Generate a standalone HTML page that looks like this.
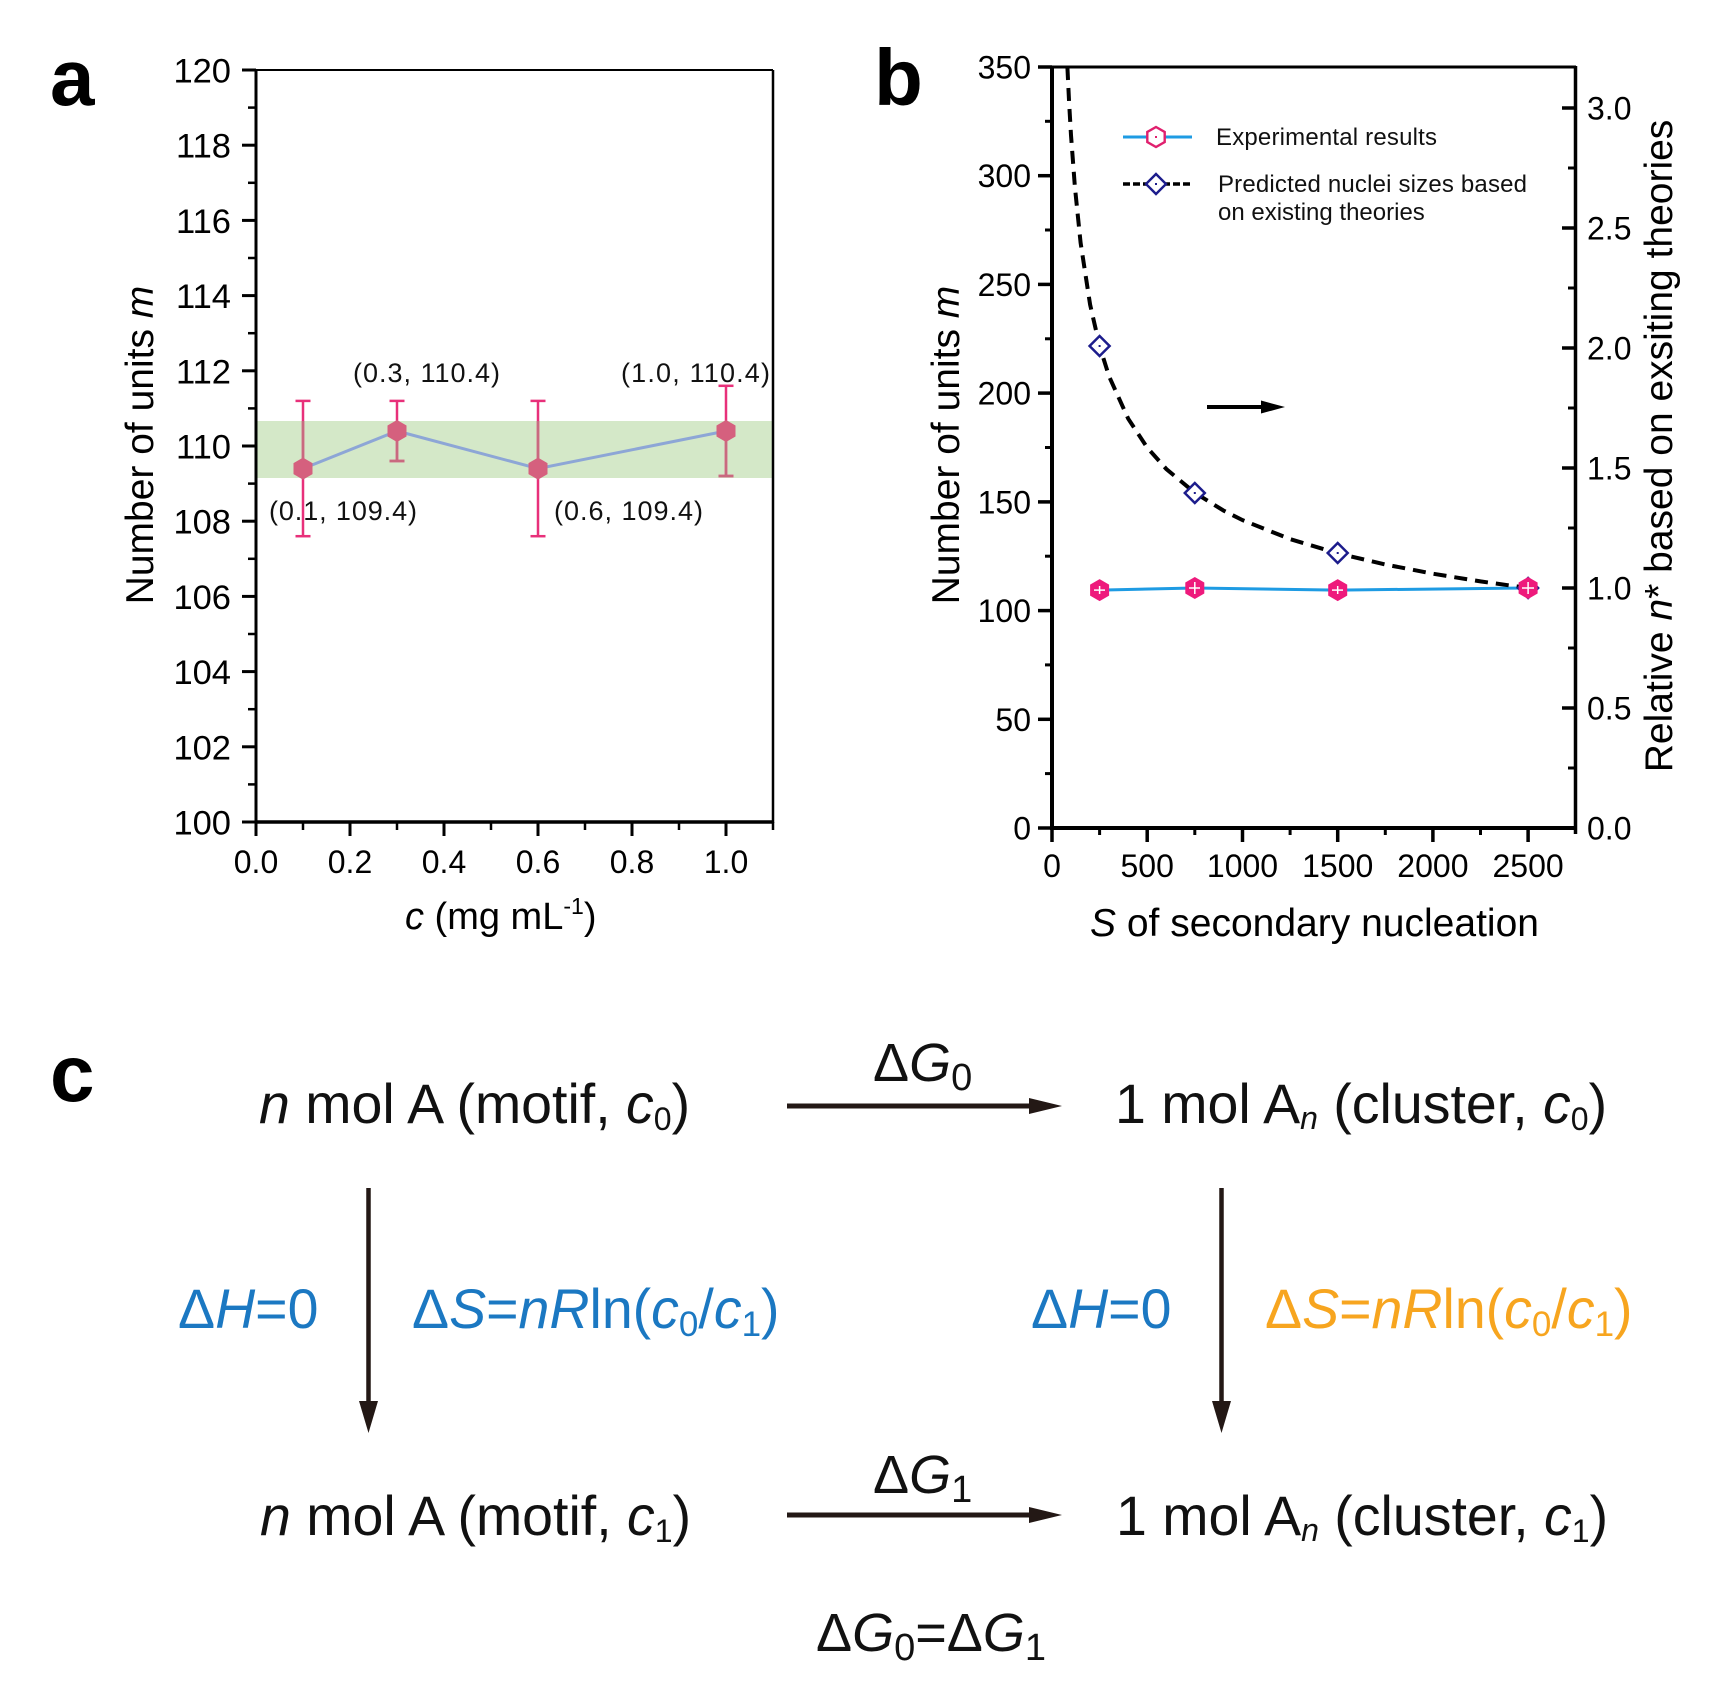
<!DOCTYPE html>
<html>
<head>
<meta charset="utf-8">
<style>
html,body{margin:0;padding:0;background:#fff;}
svg{display:block;}
text{font-family:"Liberation Sans",Arial,sans-serif;}
</style>
</head>
<body>
<svg width="1709" height="1686" viewBox="0 0 1709 1686" xmlns="http://www.w3.org/2000/svg">
<rect width="1709" height="1686" fill="#fff"/>
<defs>
<clipPath id="band"><rect x="256" y="421" width="517" height="57"/></clipPath>
</defs>

<!-- ================= Panel a ================= -->
<text x="50" y="105" font-size="80" font-weight="bold">a</text>
<rect x="256" y="421" width="517" height="57" fill="#d4e8c8"/>

<g stroke="#000" fill="none">
<line x1="256" y1="70" x2="773" y2="70" stroke-width="2"/>
<line x1="773" y1="70" x2="773" y2="823" stroke-width="2.5"/>
<line x1="256" y1="69" x2="256" y2="823.5" stroke-width="3"/>
<line x1="254.5" y1="822" x2="774" y2="822" stroke-width="3.5"/>
<g stroke-width="3">
<line x1="242" y1="822" x2="256" y2="822"/><line x1="242" y1="746.8" x2="256" y2="746.8"/>
<line x1="242" y1="671.6" x2="256" y2="671.6"/><line x1="242" y1="596.4" x2="256" y2="596.4"/>
<line x1="242" y1="521.2" x2="256" y2="521.2"/><line x1="242" y1="446" x2="256" y2="446"/>
<line x1="242" y1="370.8" x2="256" y2="370.8"/><line x1="242" y1="295.6" x2="256" y2="295.6"/>
<line x1="242" y1="220.4" x2="256" y2="220.4"/><line x1="242" y1="145.2" x2="256" y2="145.2"/>
<line x1="242" y1="70" x2="256" y2="70"/>
</g>
<g stroke-width="2.5">
<line x1="248" y1="784.4" x2="256" y2="784.4"/><line x1="248" y1="709.2" x2="256" y2="709.2"/>
<line x1="248" y1="634" x2="256" y2="634"/><line x1="248" y1="558.8" x2="256" y2="558.8"/>
<line x1="248" y1="483.6" x2="256" y2="483.6"/><line x1="248" y1="408.4" x2="256" y2="408.4"/>
<line x1="248" y1="333.2" x2="256" y2="333.2"/><line x1="248" y1="258" x2="256" y2="258"/>
<line x1="248" y1="182.8" x2="256" y2="182.8"/><line x1="248" y1="107.6" x2="256" y2="107.6"/>
</g>
<g stroke-width="3">
<line x1="256" y1="822" x2="256" y2="836"/><line x1="350" y1="822" x2="350" y2="836"/>
<line x1="444" y1="822" x2="444" y2="836"/><line x1="538" y1="822" x2="538" y2="836"/>
<line x1="632" y1="822" x2="632" y2="836"/><line x1="726" y1="822" x2="726" y2="836"/>
</g>
<g stroke-width="2.5">
<line x1="303" y1="822" x2="303" y2="830"/><line x1="397" y1="822" x2="397" y2="830"/>
<line x1="491" y1="822" x2="491" y2="830"/><line x1="585" y1="822" x2="585" y2="830"/>
<line x1="679" y1="822" x2="679" y2="830"/><line x1="773" y1="822" x2="773" y2="830"/>
</g>
</g>
<g font-size="34.5" text-anchor="end">
<text x="231" y="834.5">100</text><text x="231" y="759.3">102</text>
<text x="231" y="684.1">104</text><text x="231" y="608.9">106</text>
<text x="231" y="533.7">108</text><text x="231" y="458.5">110</text>
<text x="231" y="383.3">112</text><text x="231" y="308.1">114</text>
<text x="231" y="232.9">116</text><text x="231" y="157.7">118</text>
<text x="231" y="82.5">120</text>
</g>
<g font-size="32" text-anchor="middle">
<text x="256" y="873">0.0</text><text x="350" y="873">0.2</text>
<text x="444" y="873">0.4</text><text x="538" y="873">0.6</text>
<text x="632" y="873">0.8</text><text x="726" y="873">1.0</text>
</g>
<text x="405" y="929" font-size="38"><tspan font-style="italic">c</tspan> (mg mL<tspan font-size="23" dy="-15">-1</tspan><tspan dy="15">)</tspan></text>
<text transform="translate(153,445) rotate(-90)" font-size="39" text-anchor="middle">Number of units <tspan font-style="italic">m</tspan></text>

<g stroke="#e8307a" stroke-width="2.5" fill="none">
<line x1="303" y1="400.9" x2="303" y2="536.2"/><line x1="295.5" y1="400.9" x2="310.5" y2="400.9"/><line x1="295.5" y1="536.2" x2="310.5" y2="536.2"/>
<line x1="397" y1="400.9" x2="397" y2="461"/><line x1="389.5" y1="400.9" x2="404.5" y2="400.9"/><line x1="389.5" y1="461" x2="404.5" y2="461"/>
<line x1="538" y1="400.9" x2="538" y2="536.2"/><line x1="530.5" y1="400.9" x2="545.5" y2="400.9"/><line x1="530.5" y1="536.2" x2="545.5" y2="536.2"/>
<line x1="726" y1="385.8" x2="726" y2="476"/><line x1="718.5" y1="385.8" x2="733.5" y2="385.8"/><line x1="718.5" y1="476" x2="733.5" y2="476"/>
</g>
<g clip-path="url(#band)" stroke="#c9697f" stroke-width="2.5" fill="none">
<line x1="303" y1="400.9" x2="303" y2="536.2"/>
<line x1="397" y1="400.9" x2="397" y2="461"/><line x1="389.5" y1="461" x2="404.5" y2="461"/>
<line x1="538" y1="400.9" x2="538" y2="536.2"/>
<line x1="726" y1="385.8" x2="726" y2="476"/><line x1="718.5" y1="476" x2="733.5" y2="476"/>
</g>
<polyline points="303,468.6 397,431 538,468.6 726,431" fill="none" stroke="#8da6d6" stroke-width="3"/>
<g fill="#d5607e">
<polygon points="303,457.6 312.5,463.1 312.5,474.1 303,479.6 293.5,474.1 293.5,463.1"/>
<polygon points="397,420 406.5,425.5 406.5,436.5 397,442 387.5,436.5 387.5,425.5"/>
<polygon points="538,457.6 547.5,463.1 547.5,474.1 538,479.6 528.5,474.1 528.5,463.1"/>
<polygon points="726,420 735.5,425.5 735.5,436.5 726,442 716.5,436.5 716.5,425.5"/>
</g>
<g font-size="27" fill="#111">
<text x="353" y="382" textLength="147">(0.3, 110.4)</text>
<text x="621" y="382" textLength="149">(1.0, 110.4)</text>
<text x="269" y="520" textLength="148">(0.1, 109.4)</text>
<text x="554" y="520" textLength="149">(0.6, 109.4)</text>
</g>

<!-- ================= Panel b ================= -->
<text x="874" y="105" font-size="80" font-weight="bold">b</text>
<g stroke="#000" fill="none">
<line x1="1052" y1="67" x2="1576" y2="67" stroke-width="3"/>
<line x1="1575.5" y1="66" x2="1575.5" y2="834" stroke-width="3.5"/>
<line x1="1052" y1="65.5" x2="1052" y2="830" stroke-width="4"/>
<line x1="1050" y1="828" x2="1577" y2="828" stroke-width="4"/>
<g stroke-width="3.5">
<line x1="1038" y1="828" x2="1052" y2="828"/><line x1="1038" y1="719.3" x2="1052" y2="719.3"/>
<line x1="1038" y1="610.6" x2="1052" y2="610.6"/><line x1="1038" y1="501.9" x2="1052" y2="501.9"/>
<line x1="1038" y1="393.1" x2="1052" y2="393.1"/><line x1="1038" y1="284.4" x2="1052" y2="284.4"/>
<line x1="1038" y1="175.7" x2="1052" y2="175.7"/><line x1="1038" y1="67" x2="1052" y2="67"/>
</g>
<g stroke-width="3">
<line x1="1045" y1="773.6" x2="1052" y2="773.6"/><line x1="1045" y1="664.9" x2="1052" y2="664.9"/>
<line x1="1045" y1="556.2" x2="1052" y2="556.2"/><line x1="1045" y1="447.5" x2="1052" y2="447.5"/>
<line x1="1045" y1="338.8" x2="1052" y2="338.8"/><line x1="1045" y1="230" x2="1052" y2="230"/>
<line x1="1045" y1="121.3" x2="1052" y2="121.3"/>
</g>
<g stroke-width="3.5">
<line x1="1052" y1="828" x2="1052" y2="842"/><line x1="1147.2" y1="828" x2="1147.2" y2="842"/>
<line x1="1242.5" y1="828" x2="1242.5" y2="842"/><line x1="1337.7" y1="828" x2="1337.7" y2="842"/>
<line x1="1432.9" y1="828" x2="1432.9" y2="842"/><line x1="1528.1" y1="828" x2="1528.1" y2="842"/>
</g>
<g stroke-width="3">
<line x1="1099.6" y1="828" x2="1099.6" y2="835"/><line x1="1194.8" y1="828" x2="1194.8" y2="835"/>
<line x1="1290.1" y1="828" x2="1290.1" y2="835"/><line x1="1385.3" y1="828" x2="1385.3" y2="835"/>
<line x1="1480.5" y1="828" x2="1480.5" y2="835"/>
</g>
<g stroke-width="3.5">
<line x1="1562" y1="708" x2="1575" y2="708"/><line x1="1562" y1="588" x2="1575" y2="588"/>
<line x1="1562" y1="468" x2="1575" y2="468"/><line x1="1562" y1="348" x2="1575" y2="348"/>
<line x1="1562" y1="228" x2="1575" y2="228"/><line x1="1562" y1="108" x2="1575" y2="108"/>
</g>
<g stroke-width="3">
<line x1="1568" y1="768" x2="1575" y2="768"/><line x1="1568" y1="648" x2="1575" y2="648"/>
<line x1="1568" y1="528" x2="1575" y2="528"/><line x1="1568" y1="408" x2="1575" y2="408"/>
<line x1="1568" y1="288" x2="1575" y2="288"/><line x1="1568" y1="168" x2="1575" y2="168"/>
</g>
</g>
<g font-size="32" text-anchor="end">
<text x="1031" y="839.5">0</text><text x="1031" y="730.8">50</text>
<text x="1031" y="622.1">100</text><text x="1031" y="513.4">150</text>
<text x="1031" y="404.6">200</text><text x="1031" y="295.9">250</text>
<text x="1031" y="187.2">300</text><text x="1031" y="78.5">350</text>
</g>
<g font-size="32" text-anchor="middle">
<text x="1052" y="877">0</text><text x="1147.2" y="877">500</text>
<text x="1242.5" y="877">1000</text><text x="1337.7" y="877">1500</text>
<text x="1432.9" y="877">2000</text><text x="1528.1" y="877">2500</text>
</g>
<g font-size="32">
<text x="1587" y="839.5">0.0</text><text x="1587" y="719.5">0.5</text>
<text x="1587" y="599.5">1.0</text><text x="1587" y="479.5">1.5</text>
<text x="1587" y="359.5">2.0</text><text x="1587" y="239.5">2.5</text>
<text x="1587" y="119.5">3.0</text>
</g>
<text x="1090" y="936" font-size="39" textLength="449"><tspan font-style="italic">S</tspan> of secondary nucleation</text>
<text transform="translate(959,445) rotate(-90)" font-size="39" text-anchor="middle">Number of units <tspan font-style="italic">m</tspan></text>
<text transform="translate(1672,446) rotate(-90)" font-size="39" text-anchor="middle">Relative <tspan font-style="italic">n</tspan>* based on exsiting theories</text>

<line x1="1123" y1="137" x2="1192" y2="137" stroke="#1e9be3" stroke-width="3"/>
<polygon points="1156,127 1164.7,132 1164.7,142 1156,147 1147.3,142 1147.3,132" fill="#fff" stroke="#e0206e" stroke-width="2.4"/>
<rect x="1155" y="136" width="2" height="2" fill="#e0206e"/>
<line x1="1123" y1="184" x2="1192" y2="184" stroke="#000" stroke-width="3.5" stroke-dasharray="7 3"/>
<polygon points="1156,174 1166,184 1156,194 1146,184" fill="#fff" stroke="#1c1c8c" stroke-width="2.4"/>
<rect x="1155" y="183" width="2" height="2" fill="#1c1c8c"/>
<g font-size="24" fill="#111">
<text x="1216" y="145" textLength="221">Experimental results</text>
<text x="1218" y="192" textLength="309">Predicted nuclei sizes based</text>
<text x="1218" y="220">on existing theories</text>
</g>

<line x1="1207" y1="407" x2="1264" y2="407" stroke="#000" stroke-width="4"/>
<polygon points="1261,400.5 1285,407 1261,413.5" fill="#000"/>

<polyline points="1099.6,590.1 1194.8,588 1337.7,590.1 1528.1,588" fill="none" stroke="#1e9be3" stroke-width="3"/>
<path d="M1067.4,67 L1069.1,102.4 L1071,135.2 L1074.9,187 L1080.6,242.8 L1090.1,304.6 L1099.6,346.1 L1109.1,376.4 L1128.2,418.7 L1147.2,447.6 L1166.3,469 L1194.8,492.8 L1223.4,510.5 L1242.5,520.1 L1290.1,539.1 L1337.7,553.3 L1385.3,564.5 L1432.9,573.7 L1480.5,581.4 L1528.1,588" fill="none" stroke="#000" stroke-width="4" stroke-dasharray="13 8"/>
<g fill="#fff" stroke="#1c1c8c" stroke-width="2.5">
<polygon points="1099.6,336 1109.6,346 1099.6,356 1089.6,346"/>
<polygon points="1194.8,483 1204.8,493 1194.8,503 1184.8,493"/>
<polygon points="1337.7,543 1347.7,553 1337.7,563 1327.7,553"/>
<polygon points="1528.1,578 1538.1,588 1528.1,598 1518.1,588"/>
</g>
<g fill="#1c1c8c">
<rect x="1098.6" y="345" width="2" height="2"/><rect x="1193.8" y="492" width="2" height="2"/>
<rect x="1336.7" y="552" width="2" height="2"/>
</g>
<g fill="#ee1a7c">
<polygon points="1099.6,579.1 1109.1,584.6 1109.1,595.6 1099.6,601.1 1090.1,595.6 1090.1,584.6"/>
<polygon points="1194.8,577 1204.3,582.5 1204.3,593.5 1194.8,599 1185.3,593.5 1185.3,582.5"/>
<polygon points="1337.7,579.1 1347.2,584.6 1347.2,595.6 1337.7,601.1 1328.2,595.6 1328.2,584.6"/>
<polygon points="1528.1,577 1537.6,582.5 1537.6,593.5 1528.1,599 1518.6,593.5 1518.6,582.5"/>
</g>
<g stroke="#fff" stroke-width="1.5">
<line x1="1094" y1="590.1" x2="1105" y2="590.1"/><line x1="1099.6" y1="586" x2="1099.6" y2="594"/>
<line x1="1189" y1="588" x2="1200" y2="588"/><line x1="1194.8" y1="582" x2="1194.8" y2="594"/>
<line x1="1332" y1="590.1" x2="1343" y2="590.1"/><line x1="1337.7" y1="586" x2="1337.7" y2="594"/>
<line x1="1522" y1="588" x2="1534" y2="588"/><line x1="1528.1" y1="582" x2="1528.1" y2="594"/>
</g>

<!-- ================= Panel c ================= -->
<text x="50" y="1101" font-size="80" font-weight="bold">c</text>
<g font-size="55.5" fill="#111">
<text x="259" y="1123"><tspan font-style="italic">n</tspan> mol A (motif, <tspan font-style="italic">c</tspan><tspan font-size="32" dy="7">0</tspan><tspan dy="-7">)</tspan></text>
<text x="1115" y="1123">1 mol A<tspan font-size="32" font-style="italic" dy="6">n</tspan><tspan dy="-6"> (cluster, </tspan><tspan font-style="italic">c</tspan><tspan font-size="32" dy="7">0</tspan><tspan dy="-7">)</tspan></text>
<text x="260" y="1535"><tspan font-style="italic">n</tspan> mol A (motif, <tspan font-style="italic">c</tspan><tspan font-size="32" dy="7">1</tspan><tspan dy="-7">)</tspan></text>
<text x="1116" y="1535">1 mol A<tspan font-size="32" font-style="italic" dy="6">n</tspan><tspan dy="-6"> (cluster, </tspan><tspan font-style="italic">c</tspan><tspan font-size="32" dy="7">1</tspan><tspan dy="-7">)</tspan></text>
</g>
<g font-size="54" fill="#111">
<text x="873" y="1081">Δ<tspan font-style="italic">G</tspan><tspan font-size="38" dy="9">0</tspan></text>
<text x="873" y="1493">Δ<tspan font-style="italic">G</tspan><tspan font-size="38" dy="9">1</tspan></text>
<text x="816" y="1651">Δ<tspan font-style="italic">G</tspan><tspan font-size="38" dy="9">0</tspan><tspan dy="-9">=Δ</tspan><tspan font-style="italic">G</tspan><tspan font-size="38" dy="9">1</tspan></text>
</g>
<g font-size="55.5" fill="#1b78c2">
<text x="178" y="1328">Δ<tspan font-style="italic">H</tspan>=0</text>
<text x="412" y="1328">Δ<tspan font-style="italic">S</tspan>=<tspan font-style="italic">nR</tspan>ln(<tspan font-style="italic">c</tspan><tspan font-size="35" dy="8">0</tspan><tspan dy="-8">/</tspan><tspan font-style="italic">c</tspan><tspan font-size="35" dy="8">1</tspan><tspan dy="-8">)</tspan></text>
<text x="1031" y="1328">Δ<tspan font-style="italic">H</tspan>=0</text>
</g>
<g font-size="55.5" fill="#f7a51f">
<text x="1265" y="1328">Δ<tspan font-style="italic">S</tspan>=<tspan font-style="italic">nR</tspan>ln(<tspan font-style="italic">c</tspan><tspan font-size="35" dy="8">0</tspan><tspan dy="-8">/</tspan><tspan font-style="italic">c</tspan><tspan font-size="35" dy="8">1</tspan><tspan dy="-8">)</tspan></text>
</g>
<g fill="#231815" stroke="#231815">
<line x1="787" y1="1106" x2="1032" y2="1106" stroke-width="5"/>
<polygon points="1029,1098 1062,1106 1029,1114" stroke="none"/>
<line x1="787" y1="1515" x2="1032" y2="1515" stroke-width="5"/>
<polygon points="1029,1507 1062,1515 1029,1523" stroke="none"/>
<line x1="368.5" y1="1188" x2="368.5" y2="1404" stroke-width="4.5"/>
<polygon points="359,1401 378,1401 368.5,1433" stroke="none"/>
<line x1="1221.5" y1="1188" x2="1221.5" y2="1404" stroke-width="4.5"/>
<polygon points="1212,1401 1231,1401 1221.5,1433" stroke="none"/>
</g>
</svg>
</body>
</html>
